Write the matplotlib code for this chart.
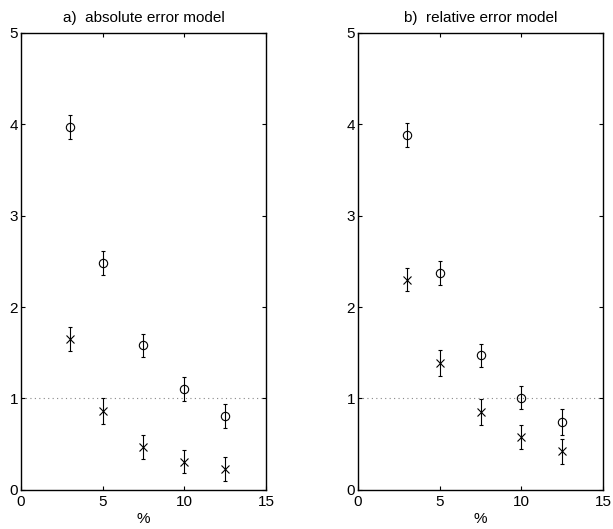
import matplotlib

matplotlib.use("Agg")
import matplotlib.pyplot as plt

plt.rcParams["font.family"] = ["Liberation Sans", "DejaVu Sans"]

# noise level (%)
pct = [3, 5, 7.5, 10, 12.5]

# a) absolute error model
abs_circ = [3.97, 2.48, 1.58, 1.10, 0.81]
abs_circ_err = [0.13, 0.13, 0.13, 0.13, 0.13]
abs_cross = [1.65, 0.86, 0.47, 0.31, 0.23]
abs_cross_err = [0.13, 0.14, 0.13, 0.13, 0.13]

# b) relative error model
rel_circ = [3.88, 2.37, 1.47, 1.01, 0.74]
rel_circ_err = [0.13, 0.13, 0.13, 0.13, 0.14]
rel_cross = [2.30, 1.39, 0.85, 0.58, 0.42]
rel_cross_err = [0.13, 0.14, 0.14, 0.13, 0.14]

titles = ["a)  absolute error model", "b)  relative error model"]
panels = [
    (abs_circ, abs_circ_err, abs_cross, abs_cross_err),
    (rel_circ, rel_circ_err, rel_cross, rel_cross_err),
]

fig = plt.figure(figsize=(6.13, 5.29), dpi=100)
axes = [fig.add_axes([0.034, 0.074, 0.40, 0.864]),
        fig.add_axes([0.584, 0.074, 0.40, 0.864])]

for ax, title, (c, ce, x, xe) in zip(axes, titles, panels):
    ax.axhline(1, color="#888888", linestyle=(0, (1, 3)), linewidth=0.8, zorder=1)
    ax.errorbar(pct, c, yerr=ce, fmt="o", mfc="none", mec="black", ms=6,
                mew=0.8, ecolor="black", elinewidth=0.8, capsize=1.5, zorder=3)
    ax.errorbar(pct, x, yerr=xe, fmt="x", color="black", ms=6,
                mew=0.8, ecolor="black", elinewidth=0.8, capsize=1.5, zorder=3)
    ax.set_xlim(0, 15)
    ax.set_ylim(0, 5)
    ax.set_xticks([0, 5, 10, 15])
    ax.set_yticks([0, 1, 2, 3, 4, 5])
    ax.tick_params(direction="in", top=True, right=True, length=3,
                   labelsize=11)
    ax.tick_params(axis="x", pad=4)
    ax.tick_params(axis="y", pad=2)
    for s in ax.spines.values():
        s.set_linewidth(1.0)
    ax.set_title(title, fontsize=11, pad=8)
    ax.set_xlabel("%", fontsize=11, labelpad=2)

fig.savefig("out.png", dpi=100)
